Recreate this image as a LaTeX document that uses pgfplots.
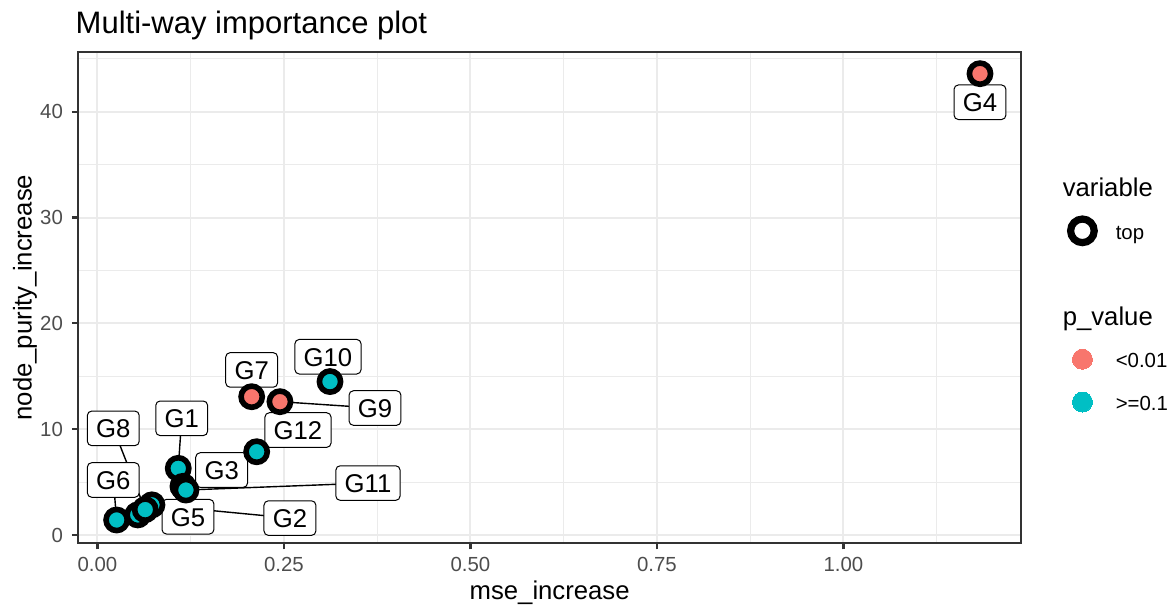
\documentclass[border=0pt]{standalone}
\usepackage{fontspec}
\setmainfont{Liberation Sans}
\usepackage{pgfplots}
\usepackage{pgfplotstable}
\pgfplotsset{compat=1.18}
\definecolor{pred}{HTML}{F8766D}
\definecolor{pteal}{HTML}{00BFC4}
\definecolor{grey20}{HTML}{333333}
\definecolor{grey30}{HTML}{4D4D4D}
\definecolor{grey92}{HTML}{EBEBEB}

\pgfplotstableread{
x y
1.183 43.6
0.2067 13.07
0.2446 12.6
}\redpts
\pgfplotstableread{
x y
0.1083 6.30
0.073 2.85
0.1146 4.60
0.054 1.90
0.0257 1.42
0.064 2.40
0.3117 14.5
0.1186 4.25
0.2134 7.87
}\tealpts

\pgfplotsset{
  ringleg/.style={legend image code/.code={\path (-12pt,0pt) (12pt,0pt);
     \draw[black, line width=3.6pt, mark=o, mark size=5.9pt, only marks] plot coordinates {(0pt,0pt)};}},
  redleg/.style={legend image code/.code={\path (-12pt,0pt) (12pt,0pt);
     \path[color=pred, only marks, mark=*, mark size=5pt, mark options={draw=pred, fill=pred, line width=0pt}] plot coordinates {(0pt,0pt)};}},
  tealleg/.style={legend image code/.code={\path (-12pt,0pt) (12pt,0pt);
     \path[color=pteal, only marks, mark=*, mark size=5pt, mark options={draw=pteal, fill=pteal, line width=0pt}] plot coordinates {(0pt,0pt)};}},
}
\tikzset{
  lab/.style={draw=black, line width=0.5pt, fill=white, rounded corners=2.2pt,
     font=\fontsize{12.85}{15}\selectfont, inner xsep=4.4pt, inner ysep=4pt,
     text height=9.3pt, text depth=0pt},
  seg/.style={draw=black, line width=0.7pt},
}

\begin{document}
\begin{tikzpicture}
\path[use as bounding box] (-39.15pt,-32pt) rectangle (548.85pt,271.5pt);
\begin{axis}[
  at={(0,0)}, anchor=south west,
  scale only axis, width=471.35pt, height=245.35pt,
  xmin=-0.0257, xmax=1.238, ymin=-0.756, ymax=45.62,
  axis line style={draw=grey20, line width=1.1pt},
  xtick={0,0.25,0.5,0.75,1}, ytick={0,10,20,30,40},
  minor xtick={0.125,0.375,0.625,0.875,1.125},
  minor ytick={5,15,25,35,45},
  grid=both,
  major grid style={draw=grey92, line width=1pt},
  minor grid style={draw=grey92, line width=0.55pt},
  tick align=outside, tick pos=left,
  major tick length=3.2pt, minor tick length=0pt,
  major tick style={draw=grey20, line width=1.1pt},
  /pgf/number format/assume math mode=true,
  ticklabel style={font=\fontsize{10.2}{12}\selectfont, text=grey30},
  x tick label style={/pgf/number format/fixed, /pgf/number format/fixed zerofill, /pgf/number format/precision=2,
     anchor=north, inner sep=0pt, text height=7.3pt, text depth=0pt},
  y tick label style={anchor=east, inner sep=0pt},
  xticklabel shift=3.6pt, yticklabel shift=4.3pt,
  xlabel={mse\_increase}, ylabel={node\_purity\_increase},
  label style={font=\fontsize{12.85}{15}\selectfont, text=black},
  x label style={at={(axis description cs:0.5,-0.11412)}, anchor=base, inner sep=0pt},
  y label style={at={(axis description cs:-0.04943,0.5)}, anchor=base, inner sep=0pt},
  legend cell align=left,
  legend style={at={(axis description cs:1.03925,0.767)}, anchor=north west,
     draw=none, fill=none, inner sep=0pt, outer sep=0pt,
     column sep=4.5pt, row sep=0pt,
     nodes={inner sep=0pt, text height=15pt, text depth=6.4pt,
            font=\fontsize{10.2}{12}\selectfont}},
]
% segments
\draw[seg] (axis cs:0.064,2.4) -- (axis cs:0.0212,10.08);
\draw[seg] (axis cs:0.0257,1.42) -- (axis cs:0.0212,5.2);
\draw[seg] (axis cs:0.1083,6.3) -- (axis cs:0.1129,11.03);
\draw[seg] (axis cs:0.2446,12.6) -- (axis cs:0.372,12.0);
\draw[seg] (axis cs:0.2134,7.87) -- (axis cs:0.2688,9.92);
\draw[seg] (axis cs:0.1186,4.25) -- (axis cs:0.3626,4.91);
\draw[seg] (axis cs:0.073,2.85) -- (axis cs:0.258,1.6);
% points: black ring with coloured fill, drawn one after another
\addplot[forget plot, only marks, mark=*, mark size=5.3pt, mark options={draw=black, line width=2.8pt, fill=pteal}] table[x=x,y=y]{\tealpts};
\addplot[forget plot, only marks, mark=*, mark size=5.3pt, mark options={draw=black, line width=2.8pt, fill=pred}] table[x=x,y=y]{\redpts};
% labels
\node[lab] at (axis cs:1.183,40.9) {G4};
\node[lab] at (axis cs:0.309,16.85) {G10};
\node[lab] at (axis cs:0.2067,15.6) {G7};
\node[lab] at (axis cs:0.372,12.0) {G9};
\node[lab] at (axis cs:0.2688,9.92) {G12};
\node[lab] at (axis cs:0.1129,11.03) {G1};
\node[lab] at (axis cs:0.0212,10.08) {G8};
\node[lab] at (axis cs:0.0212,5.2) {G6};
\node[lab] at (axis cs:0.1665,6.14) {G3};
\node[lab] at (axis cs:0.3626,4.91) {G11};
\node[lab] at (axis cs:0.1213,1.73) {G5};
\node[lab] at (axis cs:0.258,1.6) {G2};
% legend
\addlegendimage{empty legend}
\addlegendentry{\hspace*{-26.5pt}\fontsize{12.85}{15}\selectfont variable}
\addlegendimage{ringleg}
\addlegendentry{top}
\addlegendimage{empty legend}
\addlegendentry{\mbox{}}
\addlegendimage{empty legend}
\addlegendentry{\hspace*{-26.5pt}\fontsize{12.85}{15}\selectfont p\_value}
\addlegendimage{redleg}
\addlegendentry{<0.01}
\addlegendimage{tealleg}
\addlegendentry{>=0.1}
\end{axis}
\node[anchor=base west, inner sep=0pt, font=\fontsize{15.5}{18}\selectfont] at (-1.5pt,254.85pt) {Multi-way importance plot};
\end{tikzpicture}
\end{document}
